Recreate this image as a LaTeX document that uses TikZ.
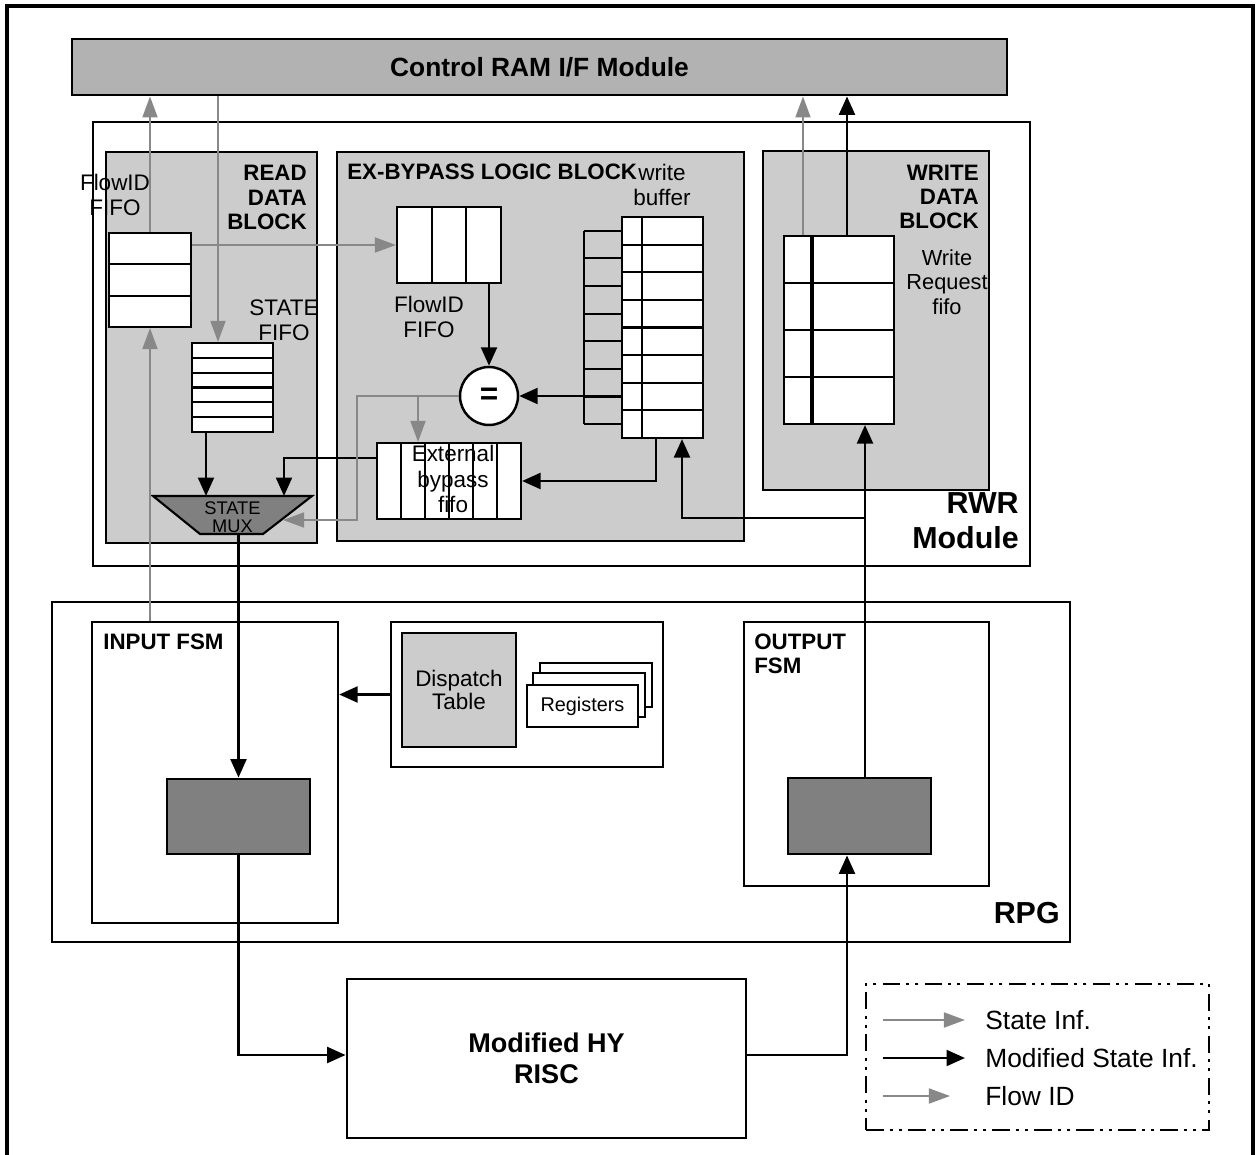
\documentclass[tikz,border=0pt]{standalone}
\usepackage{fontspec}
\setmainfont{Liberation Sans}
\usetikzlibrary{arrows.meta,fit,calc}
\definecolor{garrow}{RGB}{136,136,136}
\definecolor{blkfill}{RGB}{204,204,204}
\definecolor{ramfill}{RGB}{178,178,178}
\definecolor{darkfill}{RGB}{128,128,128}
\begin{document}
\begin{tikzpicture}[x=0.02cm,y=-0.02cm,
 box/.style={draw=black,line width=1.6pt,inner sep=0pt},
 cell/.style={draw=black,line width=1.2pt,fill=white,inner sep=0pt},
 garr/.style={draw=garrow,line width=1.2pt,-{Triangle[length=12pt,width=8.5pt]}},
 barr/.style={draw=black,line width=1.5pt,-{Triangle[length=10.5pt,width=9pt]}},
 dline/.style={draw=black,line width=1.2pt},
 lbl/.style={inner sep=0pt,font=\fontsize{12.8}{14.2}\selectfont,align=center},
 blbl/.style={inner sep=0pt,font=\bfseries\fontsize{12.7}{13.9}\selectfont},
 big/.style={inner sep=0pt,font=\bfseries\fontsize{17.3}{19.8}\selectfont},
 legtxt/.style={inner sep=0pt,anchor=west,font=\fontsize{15}{18}\selectfont},
 ]
\useasboundingbox (0,0) rectangle (1258,1155);
% outer frame
\node[box,line width=1.8pt,fit={(7,6)(1253,1170)}] (frame) {};
% Control RAM
\node[box,fill=ramfill,fit={(72,39)(1007,95)}] (ram) {};
\node[inner sep=0pt,font=\bfseries\fontsize{15}{18}\selectfont] (raml) at (ram.center) {Control RAM I/F Module};
% RWR module
\node[box,fill=white,fit={(93,122)(1030,566)}] (rwr) {};
\node[box,fill=blkfill,fit={(106,152)(317,543)}] (rdb) {};
\node[box,fill=blkfill,fit={(337,152)(744,541)}] (exb) {};
\node[box,fill=blkfill,fit={(763,151)(989,490)}] (wdb) {};
% left FlowID FIFO
\node[cell,fit={(109,233)(191,327)}] (ff1) {};
\draw[dline] (109,264.3) -- (191,264.3) (109,295.7) -- (191,295.7);
% STATE FIFO
\node[cell,fit={(192,343)(273,432)}] (sf) {};
\foreach \i in {1,...,5} \draw[dline] (192,343+14.83*\i) -- (273,343+14.83*\i);
% middle FlowID FIFO
\node[cell,fit={(397,207)(501,283)}] (mf) {};
\draw[dline] (431.7,207) -- (431.7,283) (466.3,207) -- (466.3,283);
% write buffer
\node[cell,fit={(622,217)(703,438)}] (wb) {};
\draw[dline] (642,217) -- (642,438);
\foreach \i in {1,...,7} \draw[dline] (622,217+27.625*\i) -- (703,217+27.625*\i);
\draw[dline] (584,230.8) -- (584,424.2);
\foreach \i in {0,...,7} \draw[dline] (584,230.8+27.625*\i) -- (622,230.8+27.625*\i);
% comparator
\node[draw=black,line width=1.4pt,fill=white,circle,minimum size=1.16cm,inner sep=0pt,font=\bfseries\fontsize{18}{18}\selectfont] (eq) at (489,396) {=};
% external bypass fifo
\node[cell,fit={(377,443)(521,519)}] (eb) {};
\foreach \i in {1,...,5} \draw[dline] (377+24*\i,443) -- (377+24*\i,519);
% write request fifo
\node[cell,fit={(784,236)(894,424)}] (wr) {};
\draw[draw=black,line width=2.4pt] (812,236) -- (812,424);
\draw[dline] (784,283) -- (894,283) (784,330) -- (894,330) (784,377) -- (894,377);
% state mux
\draw[line width=1.2pt,fill=darkfill] (153,496) -- (312,496) -- (263,534) -- (200,534) -- cycle;
\coordinate (muxin1) at (206,496);
\coordinate (muxin2) at (284,496);
\coordinate (muxin3) at (283,520);
\coordinate (muxout) at (238,534);
\node[inner sep=0pt,align=center,text=black,font=\fontsize{10.4}{10}\selectfont] (mux) at (232.5,517) {STATE\\MUX};
% labels in RWR
\node[lbl] (ff1l) at (115,194.5) {FlowID\\FIFO};
\node[blbl,align=right,anchor=east] (rdbl) at (307,197.5) {READ\\DATA\\BLOCK};
\node[lbl] (sfl) at (284,320.5) {STATE\\FIFO};
\node[blbl,anchor=west] (exbl) at (347,172) {EX-BYPASS LOGIC BLOCK};
\node[lbl] (wbl) at (662,184.5) {write\\buffer};
\node[lbl] (mfl) at (429,316.5) {FlowID\\FIFO};
\node[lbl,font=\fontsize{12.8}{14.5}\selectfont] (ebl) at (453,479) {External\\bypass\\fifo};
\node[blbl,align=right,anchor=east] (wdbl) at (979,197) {WRITE\\DATA\\BLOCK};
\node[lbl,font=\fontsize{12.4}{14}\selectfont] (wrl) at (947,282) {Write\\Request\\fifo};
\node[big,align=right,anchor=east] (rwrl) at (1019,520.5) {RWR\\Module};
% RPG
\node[box,fill=white,fit={(52,602)(1070,942)}] (rpg) {};
\node[box,line width=1.3pt,fit={(92,622)(338,923)}] (ip) {};
\node[blbl,anchor=west] (ipl) at (103,642) {INPUT FSM};
\node[box,fill=darkfill,fit={(167,779)(310,854)}] (idk) {};
\node[box,line width=1.3pt,fit={(391,622)(663,767)}] (dp) {};
\node[box,line width=1.3pt,fill=blkfill,fit={(402,633)(516,747)}] (dt) {};
\node[inner sep=0pt,font=\fontsize{12.8}{13.2}\selectfont,align=center] (dtl) at (dt.center) {Dispatch\\Table};
\node[box,line width=1.3pt,fill=white,fit={(540,663)(652,707)}] (reg3) {};
\node[box,line width=1.3pt,fill=white,fit={(533,673)(645,717)}] (reg2) {};
\node[box,line width=1.3pt,fill=white,fit={(527,685)(638,727)}] (reg1) {};
\node[inner sep=0pt,font=\fontsize{11.3}{13}\selectfont] (regl) at (reg1.center) {Registers};
\node[box,line width=1.3pt,fit={(744,622)(989,886)}] (op) {};
\node[blbl,align=left,anchor=west] (opl) at (754,654) {OUTPUT\\FSM};
\node[box,fill=darkfill,fit={(788,778)(931,854)}] (odk) {};
\node[big,anchor=east] (rpgl) at (1060,913) {RPG};
% RISC
\node[box,fit={(347,979)(746,1138)}] (risc) {};
\node[inner sep=0pt,font=\bfseries\fontsize{15.4}{17.6}\selectfont,align=center] (riscl) at (546.5,1058.5) {Modified HY\\RISC};
% legend
\node[draw=black,line width=1.3pt,dash pattern=on 10pt off 3.5pt on 1.7pt off 3.5pt on 1.7pt off 3.5pt,inner sep=0pt,fit={(866,984)(1209,1130)}] (leg) {};
\coordinate (l1a) at (883,1020); \coordinate (l1b) at (965,1020);
\coordinate (l2a) at (883,1058); \coordinate (l2b) at (965,1058);
\coordinate (l3a) at (883,1096); \coordinate (l3b) at (950,1096);
\draw[garr] (l1a) -- (l1b);
\draw[barr] (l2a) -- (l2b);
\draw[garr] (l3a) -- (l3b);
\node[legtxt] (lt1) at (985,1020) {State Inf.};
\node[legtxt] (lt2) at (985,1058) {Modified State Inf.};
\node[legtxt] (lt3) at (985,1096) {Flow ID};
% connectors
\draw[garr] (ff1.north) -- (ff1.north |- ram.south);
\draw[garr] (218,0 |- ram.south) -- (218,0 |- sf.north);
\draw[garr] (ff1.south |- ip.north) -- (ff1.south);
\draw[garr] (mf.west -| ff1.east) -- (mf.west);
\draw[barr] (muxin1 |- sf.south) -- (muxin1);
\draw[barr] (eb.west |- 0,458) -- (muxin2 |- 0,458) -- (muxin2);
\draw[garr] (eq.west) -- (357,0 |- eq.west) -- (357,520) -- (muxin3);
\draw[garr] (418,0 |- eq.west) -- (418,0 |- eb.north);
\draw[barr] (eq.north |- mf.south) -- (eq.north);
\draw[barr] (584,0 |- eq.east) -- (eq.east);
\draw[barr] (656,0 |- wb.south) -- (656,0 |- eb.east) -- (eb.east);
\draw[barr] (865,0 |- odk.north) -- (865,0 |- wr.south);
\draw[barr] (865,518) -- (682,518) -- (682,0 |- wb.south);
\draw[garr] (803,0 |- wr.north) -- (803,0 |- ram.south);
\draw[barr] (847,0 |- wr.north) -- (847,0 |- ram.south);
\draw[barr] (idk.north |- muxout) -- (idk.north);
\draw[barr] (dp.west) -- (dp.west -| ip.east);
\draw[barr] (idk.south) -- (idk.south |- 0,1055) -- (risc.west |- 0,1055);
\draw[barr] (risc.east |- 0,1055) -- (847,1055) -- (847,0 |- odk.south);
\end{tikzpicture}
\end{document}
